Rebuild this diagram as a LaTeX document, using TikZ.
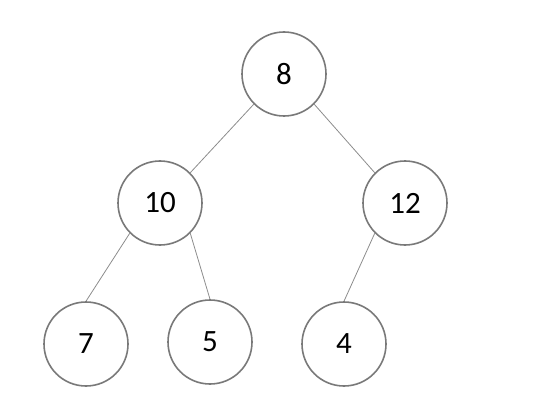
\documentclass[tikz,border=0pt]{standalone}
\usepackage{fontspec}
\setmainfont{Carlito}
\usetikzlibrary{positioning}

\begin{document}
\begin{tikzpicture}[
    on grid,
    key/.style={draw=gray!95!black, line width=1.6pt, circle, minimum size=84pt, inner sep=0pt, font=\fontsize{31}{36}\selectfont},
    edge/.style={draw=gray!90, line width=0.8pt}
]
\useasboundingbox (0,0) rectangle (553pt,-414pt);

% Root
\node[key] (n8) at (284pt,-74pt) {8};

% Second level
\node[key, below left=129pt and 124pt of n8] (n10) {10};
\node[key, below right=129pt and 121pt of n8] (n12) {12};

% Leaves
\node[key, below left=141pt and 74pt of n10] (n7) {7};
\node[key, below right=139pt and 50pt of n10] (n5) {5};
\node[key, below left=141pt and 61pt of n12] (n4) {4};

% Edges
\draw[edge] (n8.south west) -- (n10.north east);
\draw[edge] (n8.south east) -- (n12.north west);
\draw[edge] (n10.south west) -- (n7.north);
\draw[edge] (n10.south east) -- (n5.north);
\draw[edge] (n12.south west) -- (n4.north);

\end{tikzpicture}
\end{document}
